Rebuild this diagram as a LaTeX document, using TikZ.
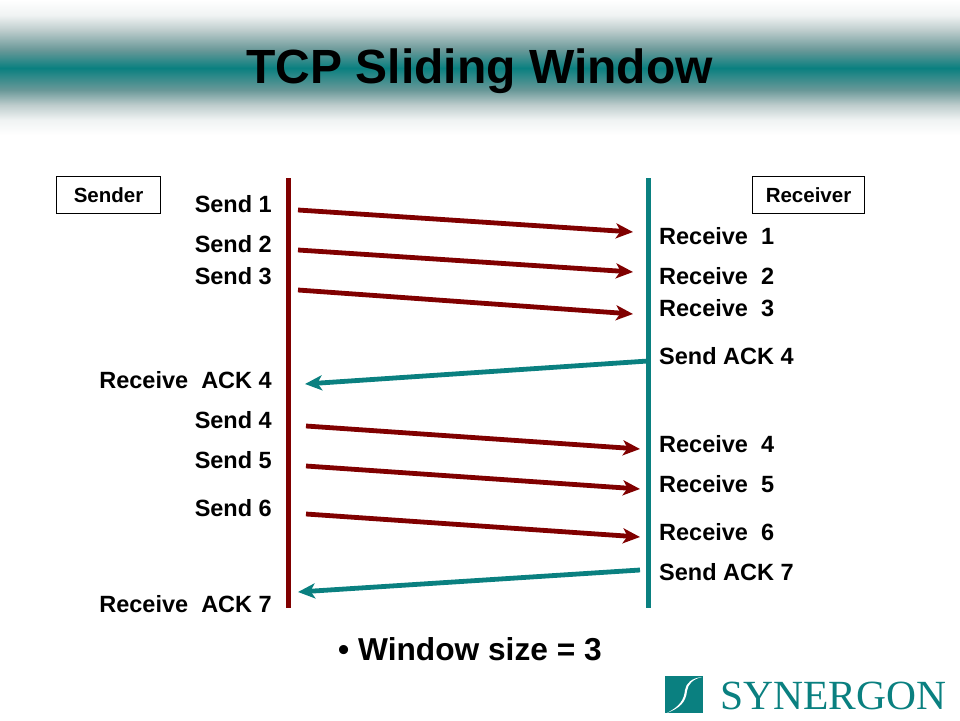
\documentclass[tikz,border=0pt]{standalone}
\usepackage{fontspec}
\setmainfont{Liberation Sans}
\newfontfamily\logofont{Liberation Serif}
\usetikzlibrary{arrows.meta}
\definecolor{bandteal}{RGB}{10,128,128}
\definecolor{bandmid}{RGB}{105,152,152}
\definecolor{bandpale}{RGB}{190,205,205}
\definecolor{bandfaint}{RGB}{240,243,243}
\definecolor{darkred}{RGB}{128,0,0}
\pgfdeclareverticalshading{bandshade}{100bp}{color(0bp)=(white); color(25bp)=(white); color(30.6bp)=(bandfaint);
    color(36.1bp)=(bandpale); color(41.7bp)=(bandmid); color(49.8bp)=(bandteal); color(56.5bp)=(bandmid);
    color(63.9bp)=(bandpale); color(69.4bp)=(bandfaint); color(75bp)=(white); color(100bp)=(white)}
\tikzset{
    msgline/.style={line width=4.8pt,-{Stealth[length=17pt,width=15pt,inset=4.5pt]}},
    sendarrow/.style={msgline,draw=darkred},
    ackarrow/.style={msgline,draw=bandteal},
    lifeline/.style={line width=5pt},
    roletext/.style={draw=black,line width=1pt,font=\bfseries\fontsize{20.5}{21}\selectfont,minimum height=37pt,inner sep=0pt,anchor=north west},
    lefttext/.style={anchor=base east,inner sep=0pt,font=\bfseries\fontsize{23.5}{25}\selectfont},
    righttext/.style={anchor=base west,inner sep=0pt,font=\bfseries\fontsize{23.5}{25}\selectfont}
}
\begin{document}
\begin{tikzpicture}[x=1pt,y=-1pt]
        \useasboundingbox (0,0) rectangle (960,720);
        % title band
        \shade[shading=bandshade] (0,0) rectangle (960,135);
        \node (title) at (479.5,71) {\bfseries\fontsize{48}{52}\selectfont TCP Sliding Window};

        \node[roletext,minimum width=104pt] (sender) at (56,176) {Sender};
        \node[roletext,minimum width=112pt] (receiver) at (752,176) {Receiver};

        \coordinate (sendtop) at (288.5,178);
        \coordinate (sendbot) at (288.5,608);
        \coordinate (recvtop) at (648,178);
        \coordinate (recvbot) at (648,608);
        \draw[lifeline,darkred] (sendtop) -- (sendbot);
        \draw[lifeline,bandteal] (recvtop) -- (recvbot);

        % sender side
        \foreach\n/\y/\t in {sa/212/Send 1,sb/252/Send 2,sc/284/Send 3,sd/388/Receive\ \ ACK 4,
                             se/428/Send 4,sf/468/Send 5,sg/516/Send 6,sh/612/Receive\ \ ACK 7}{
            \node[lefttext] (\n) at (272,\y) {\t};
        }
        % receiver side
        \foreach\n/\y/\t in {ra/244/Receive\ \ 1,rb/284/Receive\ \ 2,rc/316/Receive\ \ 3,rd/364/Send ACK 4,
                             re/452/Receive\ \ 4,rf/492/Receive\ \ 5,rg/540/Receive\ \ 6,rh/580/Send ACK 7}{
            \node[righttext] (\n) at (659,\y) {\t};
        }

        % arrows
        \foreach\n/\xa/\ya/\xb/\yb in {a/298/210/633/232,b/298/250/633/272,c/298/290/633/314,
                                       e/306/426/640/449,f/306/466/640/489,g/306/514/640/537}{
            \coordinate (from\n) at (\xa,\ya);
            \coordinate (to\n) at (\xb,\yb);
            \draw[sendarrow] (from\n) -- (to\n);
        }
        \coordinate (fromd) at (648,361);
        \coordinate (tod) at (305,384);
        \draw[ackarrow] (fromd) -- (tod);
        \coordinate (fromh) at (640,570);
        \coordinate (toh) at (298,592);
        \draw[ackarrow] (fromh) -- (toh);

        \node[anchor=base west,inner sep=0pt] (winsize) at (338,660) {\bfseries\fontsize{31.7}{33}\selectfont\textbullet\ Window size = 3};

        % logo
        \fill[bandteal] (665,676) rectangle (703,713);
        \fill[white] (667,713) .. controls (680,706) and (684,700) .. (685,690)
            .. controls (686,683) and (692,678) .. (702,677)
            .. controls (693,679) and (688,684) .. (687,691)
            .. controls (686,702) and (680,708) .. (667,713) -- cycle;
        \node[anchor=base west,inner sep=0pt,text=bandteal] (logotext) at (720,709) {\logofont\fontsize{41.5}{42}\selectfont SYNERGON};
\end{tikzpicture}
\end{document}
